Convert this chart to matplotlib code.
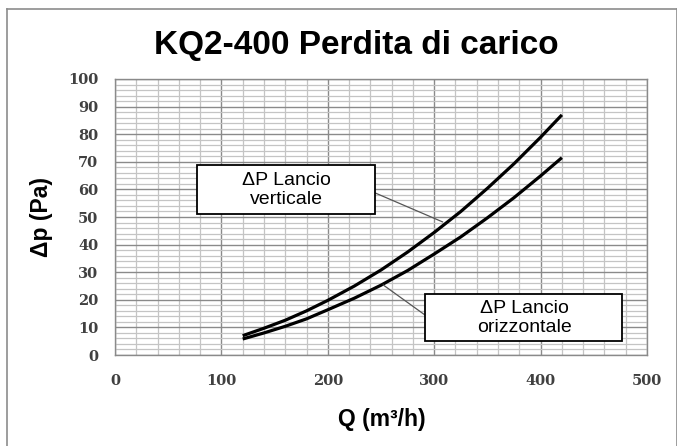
import matplotlib
matplotlib.use('Agg')
import matplotlib.pyplot as plt
from matplotlib.lines import Line2D
from matplotlib.patches import Rectangle
import numpy as np

# data
Q = [120, 140, 160, 180, 200, 225, 250, 275, 300, 325, 350, 375, 400, 420]
dp_verticale = [7.0, 9.7, 12.6, 16.0, 19.8, 25.0, 30.8, 37.3, 44.4, 52.0, 60.4, 69.3, 78.9, 87.0]
dp_orizzontale = [5.8, 8.0, 10.4, 13.1, 16.4, 20.6, 25.3, 30.6, 36.6, 42.8, 49.7, 57.0, 64.9, 71.5]
x_ticks = [0, 100, 200, 300, 400, 500]
y_ticks = [0, 10, 20, 30, 40, 50, 60, 70, 80, 90, 100]

fig = plt.figure(figsize=(6.77, 4.46), dpi=100)
ax = fig.add_axes([0.1699, 0.2040, 0.7858, 0.6189])

# outer chart frame (gray)
for xs, ys in [([0.0103, 0.0103], [0, 0.980]), ([0.0103, 0.9993], [0.980, 0.980]),
               ([0.9993, 0.9993], [0.980, 0])]:
    fig.add_artist(Line2D(xs, ys, transform=fig.transFigure, color='#8c8c8c', lw=1.2))

ax.set_xlim(0, 500)
ax.set_ylim(0, 100)
ax.set_xticks(x_ticks)
ax.set_yticks(y_ticks)
ax.set_xticks(np.arange(0, 501, 20), minor=True)
ax.set_yticks(np.arange(0, 101, 2), minor=True)
ax.grid(which='minor', color='#c4c4c4', lw=0.9)
ax.grid(which='major', color='#8a8a8a', lw=1.0)
ax.set_axisbelow(True)
ax.tick_params(which='both', length=0)
ax.tick_params(axis='x', pad=14)
ax.tick_params(axis='y', pad=12)
for lab in ax.get_xticklabels() + ax.get_yticklabels():
    lab.set_fontfamily('DejaVu Serif')
    lab.set_fontweight('bold')
    lab.set_fontsize(10.5)
    lab.set_color('#404040')
for s in ax.spines.values():
    s.set_color('#8a8a8a')
    s.set_linewidth(1.0)

ax.plot(Q, dp_verticale, color='k', lw=2.3, solid_capstyle='butt')
ax.plot(Q, dp_orizzontale, color='k', lw=2.3, solid_capstyle='butt')

ax.set_xlabel('Q (m³/h)', fontfamily='Liberation Sans', fontweight='bold', fontsize=16.5)
ax.set_ylabel('Δp (Pa)', fontfamily='Liberation Sans', fontweight='bold', fontsize=16.5)
ax.xaxis.set_label_coords(0.502, -0.192)
ax.yaxis.set_label_coords(-0.117, 0.5)

fig.text(0.527, 0.899, 'KQ2-400 Perdita di carico', ha='center', va='center',
         fontfamily='Liberation Sans', fontweight='bold', fontsize=24)

# leader lines, from box edge to curve
ax.annotate('', xy=(308, 48.2), xytext=(244.6, 58.7),
            arrowprops=dict(arrowstyle='-', color='#555555', lw=0.9, shrinkA=0, shrinkB=0))
ax.annotate('', xy=(252, 25.4), xytext=(291.3, 14.5),
            arrowprops=dict(arrowstyle='-', color='#555555', lw=0.9, shrinkA=0, shrinkB=0))

# label boxes
ax.add_patch(Rectangle((77, 51.1), 167.4, 17.7, fc='white', ec='k', lw=1.3, zorder=3))
ax.add_patch(Rectangle((291.3, 5.2), 185.2, 16.9, fc='white', ec='k', lw=1.3, zorder=3))
ax.text(160.7, 59.8, 'ΔP Lancio\nverticale', ha='center', va='center', fontsize=14,
        fontfamily='Liberation Sans', linespacing=1.12, zorder=4)
ax.text(384.4, 13.4, 'ΔP Lancio\norizzontale', ha='center', va='center', fontsize=14,
        fontfamily='Liberation Sans', linespacing=1.12, zorder=4)

fig.savefig('out.png', dpi=100)
